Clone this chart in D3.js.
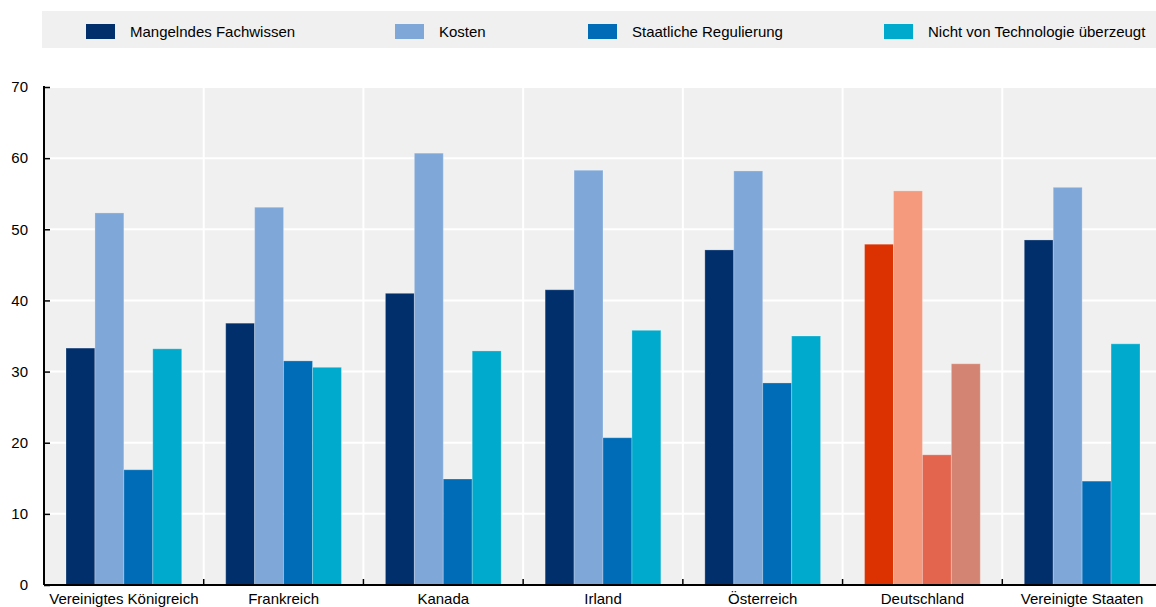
<!DOCTYPE html>
<html><head><meta charset="utf-8">
<script src="https://cdn.jsdelivr.net/npm/d3@7"></script>
<style>body{margin:0;background:#fff}svg{display:block;font-family:"Liberation Sans",Arial,sans-serif}</style>
</head><body><svg id="c" width="1156" height="607"></svg>
<script>
const categories = ["Vereinigtes Königreich","Frankreich","Kanada","Irland","Österreich","Deutschland","Vereinigte Staaten"];
const seriesNames = ["Mangelndes Fachwissen","Kosten","Staatliche Regulierung","Nicht von Technologie überzeugt"];
const mangelndesFachwissen = [33.3,36.8,41.0,41.5,47.1,47.9,48.5];
const kosten = [52.3,53.1,60.7,58.3,58.2,55.4,55.9];
const staatlicheRegulierung = [16.2,31.5,14.9,20.7,28.4,18.3,14.6];
const nichtUeberzeugt = [33.2,30.6,32.9,35.8,35.0,31.1,33.9];
const yTicks = [0,10,20,30,40,50,60,70];
const colors = ["#002f6c","#7fa8d9","#006bb6","#00aacc"];
const highlightColors = ["#dc3100","#f59a7c","#e3654e","#d48473"];
const highlight = "Deutschland";

const series = [mangelndesFachwissen,kosten,staatlicheRegulierung,nichtUeberzeugt];
const svg = d3.select("#c");
const m = {l:44, r:1162, t:87, b:585};

// legend
svg.append("rect").attr("x",42).attr("y",11).attr("width",1114).attr("height",37).attr("fill","#f0f0f0");
const legX = [86,395,588,884];
seriesNames.forEach((n,i)=>{
  svg.append("rect").attr("x",legX[i]).attr("y",24).attr("width",29).attr("height",15).attr("fill",colors[i]);
  svg.append("text").attr("x",legX[i]+44).attr("y",37).attr("font-size",15).attr("fill","#000").text(n);
});

const x = d3.scaleBand().domain(categories).range([m.l,m.r]);
const xi = d3.scaleBand().domain(d3.range(4)).range([22, x.bandwidth()-22]);
const y = d3.scaleLinear().domain([0,70]).range([m.b,m.t]);

svg.append("rect").attr("x",m.l).attr("y",m.t).attr("width",m.r-m.l+4).attr("height",m.b-m.t).attr("fill","#f0f0f0");
// grid
svg.append("g").selectAll("line").data(yTicks.slice(1)).join("line")
  .attr("x1",m.l).attr("x2",m.r+4).attr("y1",d=>y(d)).attr("y2",d=>y(d))
  .attr("stroke","#fff").attr("stroke-width",2);
svg.append("g").selectAll("line").data(categories.slice(1)).join("line")
  .attr("x1",d=>x(d)).attr("x2",d=>x(d)).attr("y1",m.t).attr("y2",m.b)
  .attr("stroke","#fff").attr("stroke-width",2);

// bars
const g = svg.append("g");
categories.forEach((c,ci)=>{
  series.forEach((s,si)=>{
    const col = c===highlight ? highlightColors[si] : colors[si];
    g.append("rect").attr("x",x(c)+xi(si)).attr("width",xi.bandwidth())
      .attr("y",y(s[ci])).attr("height",y(0)-y(s[ci]))
      .attr("fill",col).attr("stroke","rgba(255,255,255,0.25)").attr("stroke-width",1);
  });
});

// y axis
const ya = svg.append("g").attr("transform",`translate(${m.l},0)`)
  .call(d3.axisLeft(y).tickValues(yTicks).tickSize(-6).tickPadding(16));
ya.select(".domain").remove();
ya.selectAll(".tick line").attr("stroke","#000").attr("stroke-width",1.5);
ya.selectAll("text").attr("font-size",15).attr("fill","#000").attr("font-family","Liberation Sans, Arial, sans-serif");
svg.append("line").attr("x1",m.l).attr("x2",m.l).attr("y1",m.t-1).attr("y2",m.b).attr("stroke","#000").attr("stroke-width",2);

// x axis
const xa = svg.append("g").attr("transform",`translate(0,${m.b})`)
  .call(d3.axisBottom(x).tickSize(0).tickPadding(8));
xa.select(".domain").remove();
xa.selectAll("text").attr("font-size",15).attr("fill","#000").attr("font-family","Liberation Sans, Arial, sans-serif");
svg.append("g").selectAll("line").data(categories.slice(1)).join("line")
  .attr("x1",d=>x(d)).attr("x2",d=>x(d)).attr("y1",m.b).attr("y2",m.b-6)
  .attr("stroke","#000").attr("stroke-width",1.5);
svg.append("line").attr("x1",m.l).attr("x2",m.r+4).attr("y1",m.b).attr("y2",m.b).attr("stroke","#000").attr("stroke-width",2);
</script></body></html>
